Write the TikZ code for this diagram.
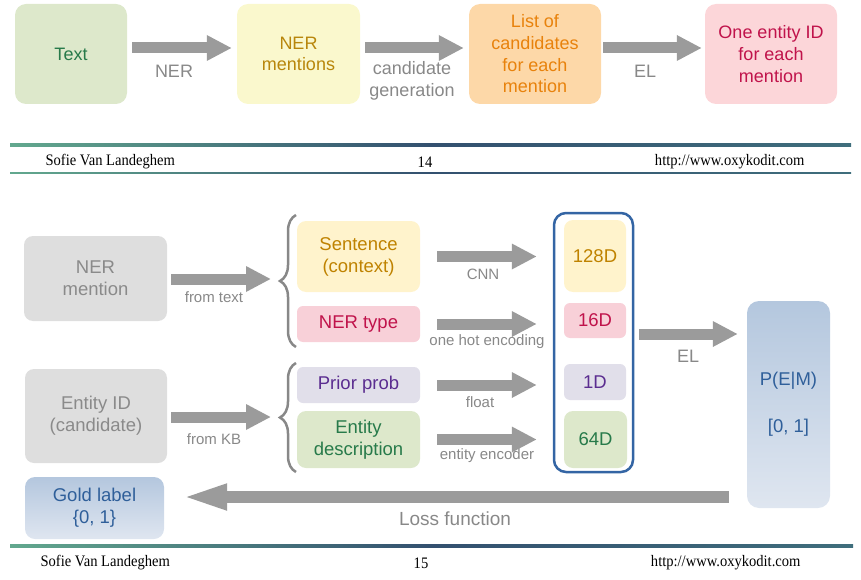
\documentclass[tikz,border=0pt]{standalone}
\usepackage{fontspec}
\setmainfont{Liberation Sans}
\newfontfamily\footfont[FakeStretch=0.91]{Liberation Serif}
\usetikzlibrary{arrows.meta, decorations.pathreplacing, positioning}

\definecolor{arrowgray}{HTML}{9B9B9B}
\definecolor{labelgray}{HTML}{888888}
\definecolor{boxgray}{HTML}{DEDEDE}
\definecolor{textgray}{HTML}{8A8A8A}
\definecolor{greenfill}{HTML}{DDE8CB}
\definecolor{greentext}{HTML}{277A4A}
\definecolor{lemonfill}{HTML}{FAF8CD}
\definecolor{lemontext}{HTML}{B8860B}
\definecolor{yellowfill}{HTML}{FFF3CC}
\definecolor{yellowtext}{HTML}{BF8200}
\definecolor{orangefill}{HTML}{FDD8A8}
\definecolor{orangetext}{HTML}{E8820C}
\definecolor{pinkfill}{HTML}{FCD6D9}
\definecolor{pinktext}{HTML}{C0134B}
\definecolor{typefill}{HTML}{F8D0D8}
\definecolor{purplefill}{HTML}{E1DFEA}
\definecolor{purpletext}{HTML}{5B2D90}
\definecolor{bluetop}{HTML}{B4C7DE}
\definecolor{bluebottom}{HTML}{DFE6F0}
\definecolor{bluetext}{HTML}{2F5F9A}
\definecolor{frameblue}{HTML}{3465A4}
\definecolor{lineleft}{HTML}{62A88E}
\definecolor{linemid}{HTML}{33506F}
\definecolor{lineright}{HTML}{3F6E7C}

\tikzset{
  box/.style={rectangle, rounded corners=11pt, inner sep=0pt, align=center, font=\fontsize{18}{21.7}\selectfont},
  lowbox/.style={box, rounded corners=9pt, font=\fontsize{18.5}{22}\selectfont},
  bigarrow/.style={draw=arrowgray, line width=11pt, -{Triangle[length=25pt, width=24pt]}},
  lossarrow/.style={draw=arrowgray, line width=12pt, -{Triangle[length=47pt, width=23pt]}},
  arrowlabel/.style={text=labelgray, align=center, font=\fontsize{18}{21.5}\selectfont},
  smalllabel/.style={text=labelgray, font=\fontsize{15}{17}\selectfont},
  curly/.style={decorate, decoration={brace, amplitude=16pt}, draw=labelgray, line width=2.5pt},
  foottext/.style={text=black, font=\footfont\fontsize{16}{18}\selectfont}
}

\begin{document}
\begin{tikzpicture}[x=1pt, y=-1pt]
    \useasboundingbox (0,0) rectangle (861,580);

    %Place pipeline nodes (slide 14)
    \node[box, fill=greenfill, text=greentext, minimum width=112pt, minimum height=100pt] (input-text) at (71,54) {Text};
    \node[box, fill=lemonfill, text=lemontext, minimum width=123pt, minimum height=100pt] (ner-mentions) at (298.5,54) {NER\\mentions};
    \node[box, fill=orangefill, text=orangetext, minimum width=132pt, minimum height=100pt] (candidates) at (535,54) {List of\\candidates\\for each\\mention};
    \node[box, fill=pinkfill, text=pinktext, minimum width=132pt, minimum height=100pt] (entity-out) at (771,54) {One entity ID\\for each\\mention};

    %Place pipeline labels
    \node[arrowlabel] (ner-label) at (174,71) {NER};
    \node[arrowlabel] (cand-label) at (412,81) {candidate\\generation};
    \node[arrowlabel] (el-label) at (645,71) {EL};

    %Draw pipeline arrows
    \draw[bigarrow, shorten <=5pt, shorten >=5pt] ([yshift=6pt]input-text.east) -- ([yshift=6pt]ner-mentions.west);
    \draw[bigarrow, shorten <=5pt, shorten >=5pt] ([yshift=6pt]ner-mentions.east) -- ([yshift=6pt]candidates.west);
    \draw[bigarrow, shorten <=2pt, shorten >=3pt] ([yshift=6pt]candidates.east) -- ([yshift=6pt]entity-out.west);

    %Footer slide 14
    \shade[left color=lineleft, right color=lineright, middle color=linemid] (10,143.5) rectangle (851,146.5);
    \shade[left color=lineleft, right color=lineright, middle color=linemid] (10,172.5) rectangle (851,174);
    \node[foottext, anchor=west] (author-14) at (42,162) {Sofie Van Landeghem};
    \node[foottext] (page-14) at (425,162) {14};
    \node[foottext, anchor=east] (url-14) at (808,162) {http://www.oxykodit.com};

    %Place input nodes (slide 15)
    \node[lowbox, fill=boxgray, text=textgray, minimum width=143pt, minimum height=85pt] (ner-mention) at (95.5,278.5) {NER\\mention};
    \node[lowbox, fill=boxgray, text=textgray, minimum width=142pt, minimum height=94pt] (entity-id) at (96,416) {Entity ID\\(candidate)};

    %Place feature nodes
    \node[lowbox, fill=yellowfill, text=yellowtext, minimum width=123pt, minimum height=71pt] (sentence) at (358.5,256.5) {Sentence\\(context)};
    \node[lowbox, fill=typefill, text=pinktext, minimum width=123pt, minimum height=36pt, rounded corners=6pt] (ner-type) at (358.5,324) {NER type};
    \node[lowbox, fill=purplefill, text=purpletext, minimum width=123pt, minimum height=36pt, rounded corners=6pt] (prior) at (358.5,385) {Prior prob};
    \node[lowbox, fill=greenfill, text=greentext, minimum width=123pt, minimum height=57pt] (description) at (358.5,439.5) {Entity\\description};

    %Braces
    \draw[curly] (296,347) -- (296,215);
    \draw[curly] (296,472) -- (296,363);
    \coordinate (brace-top) at (280,279);
    \coordinate (brace-low) at (280,417);

    %Place vector nodes
    \node[draw=frameblue, line width=2.5pt, fill=white, rounded corners=12pt, inner sep=0pt, minimum width=79pt, minimum height=259pt] (vector) at (593.5,342.5) {};
    \node[lowbox, fill=yellowfill, text=yellowtext, minimum width=62pt, minimum height=72pt] (dim-128) at (595,256) {128D};
    \node[lowbox, fill=typefill, text=pinktext, minimum width=62pt, minimum height=35pt, rounded corners=6pt] (dim-16) at (595,320.5) {16D};
    \node[lowbox, fill=purplefill, text=purpletext, minimum width=62pt, minimum height=36pt, rounded corners=6pt] (dim-1) at (595,382) {1D};
    \node[lowbox, fill=greenfill, text=greentext, minimum width=63pt, minimum height=57pt] (dim-64) at (595.5,439.5) {64D};

    %Place output nodes
    \node[lowbox, top color=bluetop, bottom color=bluebottom, text=bluetext, minimum width=83pt, minimum height=207pt, rounded corners=12pt] (pem) at (788.5,404.5) {P(E|M)\\[25pt]{[}0, 1{]}};
    \node[lowbox, top color=bluetop, bottom color=bluebottom, text=bluetext, minimum width=139pt, minimum height=62pt, rounded corners=10pt] (gold) at (94.5,508) {Gold label\\\{0, 1\}};

    %Place arrow labels
    \node[smalllabel] (from-text) at (214,297) {from text};
    \node[smalllabel] (from-kb) at (214,439) {from KB};
    \node[smalllabel] (cnn) at (483,274) {CNN};
    \node[smalllabel] (one-hot) at (487,342) {one hot encoding};
    \node[smalllabel] (float) at (480,402) {float};
    \node[smalllabel] (encoder) at (487,456) {entity encoder};
    \node[arrowlabel] (el-vector) at (688,356) {EL};
    \node[arrowlabel, font=\fontsize{19}{22}\selectfont] (loss) at (455,519) {Loss function};

    %Draw arrows
    \draw[bigarrow, shorten <=4pt, shorten >=9pt] (ner-mention.east |- brace-top) -- (brace-top);
    \draw[bigarrow, shorten <=4pt, shorten >=9pt] (entity-id.east |- brace-low) -- (brace-low);
    \draw[bigarrow, shorten <=17pt, shorten >=27pt] (sentence.east) -- (sentence.east -| dim-128.west);
    \draw[bigarrow, shorten <=17pt, shorten >=27pt] (ner-type.east) -- (ner-type.east -| dim-16.west);
    \draw[bigarrow, shorten <=17pt, shorten >=27pt] (prior.east) -- (prior.east -| dim-1.west);
    \draw[bigarrow, shorten <=17pt, shorten >=27pt] (description.east) -- (description.east -| dim-64.west);
    \coordinate (el-start) at ([yshift=8.5pt]vector.east);
    \draw[bigarrow, shorten <=5pt, shorten >=9pt] (el-start) -- (el-start -| pem.west);
    \coordinate (loss-end) at ([yshift=11pt]gold.east);
    \draw[lossarrow, shorten <=18pt, shorten >=16pt] (loss-end -| pem.west) -- (loss-end);

    %Footer slide 15
    \shade[left color=lineleft, right color=lineright, middle color=linemid] (10,544) rectangle (853,547);
    \node[foottext, anchor=west] (author-15) at (37,563) {Sofie Van Landeghem};
    \node[foottext] (page-15) at (421,563) {15};
    \node[foottext, anchor=east] (url-15) at (804,563) {http://www.oxykodit.com};
\end{tikzpicture}
\end{document}
